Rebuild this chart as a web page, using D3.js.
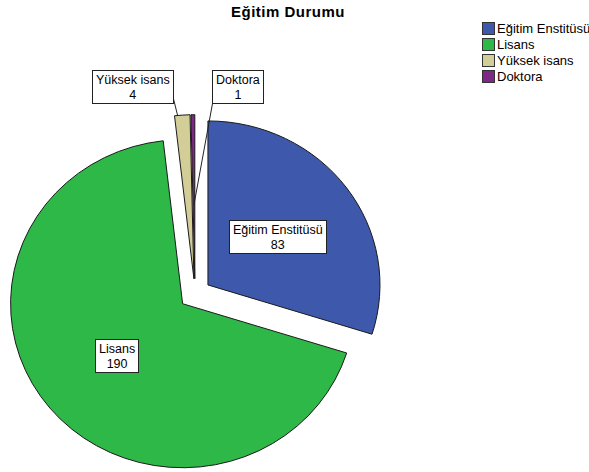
<!DOCTYPE html>
<html>
<head>
<meta charset="utf-8">
<script src="https://cdn.jsdelivr.net/npm/d3@7/dist/d3.min.js"></script>
<style>
  html, body { margin: 0; padding: 0; background: #fff; }
  svg { display: block; font-family: "Liberation Sans", Arial, sans-serif; }
</style>
</head>
<body>
<svg id="chart" width="589" height="472"></svg>
<script>
const title = "Eğitim Durumu";
const categories = ["Eğitim Enstitüsü", "Lisans", "Yüksek isans", "Doktora"];
const values = [83, 190, 4, 1];
const colors = ["#3E58AC", "#2EB848", "#D3CE97", "#7C2884"];

const svg = d3.select("#chart");
const cx = 195, cy = 294, r = 164, sx = 1.049, explode = 15.3;

// Title
svg.append("text")
  .attr("x", 288).attr("y", 17)
  .attr("text-anchor", "middle")
  .attr("font-size", 15).attr("font-weight", "bold")
  .attr("letter-spacing", 0.5)
  .attr("fill", "#000")
  .text(title);

const data = categories.map((c, i) => ({ cat: c, value: values[i], color: colors[i] }));
const pie = d3.pie().value(d => d.value).sort(null).startAngle(0).endAngle(2 * Math.PI);
const arcs = pie(data);
const arc = d3.arc().innerRadius(0).outerRadius(r);

function offset(d) {
  const a = (d.startAngle + d.endAngle) / 2;
  return [explode * Math.sin(a) * sx, -explode * Math.cos(a)];
}
function pt(d, frac, ang) {
  const o = offset(d);
  return [cx + o[0] + frac * r * Math.sin(ang) * sx, cy + o[1] - frac * r * Math.cos(ang)];
}

const gPie = svg.append("g");
gPie.selectAll("path").data(arcs).enter().append("path")
  .attr("transform", d => { const o = offset(d); return `translate(${cx + o[0]},${cy + o[1]}) scale(${sx},1)`; })
  .attr("d", arc)
  .attr("fill", d => d.data.color)
  .attr("stroke", "#1a1a1a")
  .attr("stroke-width", 1)
  .attr("vector-effect", "non-scaling-stroke")
  .attr("stroke-linejoin", "round");

// leader lines group (under boxes)
const gLines = svg.append("g");
// Labels
const gLab = svg.append("g").attr("font-size", 12.5);
function labelBox(lines, center, anchorLeft, anchorRight, top) {
  const g = gLab.append("g");
  const rect = g.append("rect").attr("fill", "#fff").attr("stroke", "#222").attr("stroke-width", 1);
  const t1 = g.append("text").attr("text-anchor", "middle").attr("fill", "#000").text(lines[0]);
  const t2 = g.append("text").attr("text-anchor", "middle").attr("fill", "#000").text(lines[1]);
  const w = Math.max(t1.node().getComputedTextLength(), t2.node().getComputedTextLength()) + 7;
  const h = 33;
  let x0, y0;
  if (center) { x0 = center[0] - w / 2; y0 = center[1] - h / 2; }
  else if (anchorLeft != null) { x0 = anchorLeft; y0 = top; }
  else { x0 = anchorRight - w; y0 = top; }
  x0 = Math.round(x0) + 0.5; y0 = Math.round(y0) + 0.5;
  rect.attr("x", x0).attr("y", y0).attr("width", Math.round(w)).attr("height", h);
  t1.attr("x", x0 + w / 2).attr("y", y0 + 13);
  t2.attr("x", x0 + w / 2).attr("y", y0 + 28);
  return { x0, y0, w, h };
}

arcs.forEach(d => {
  const mid = (d.startAngle + d.endAngle) / 2;
  const lines = [d.data.cat, String(d.data.value)];
  if (d.data.value >= 10) {
    labelBox(lines, pt(d, 0.5, mid));
  } else if (d.data.cat === "Yüksek isans") {
    const b = labelBox(lines, null, null, 173, 70);
    const p = pt(d, 1.0, d.startAngle + 0.2 * (d.endAngle - d.startAngle));
    gLines.append("line").attr("x1", b.x0 + b.w).attr("y1", b.y0 + 27)
      .attr("x2", p[0]).attr("y2", p[1]).attr("stroke", "#222").attr("stroke-width", 1);
  } else {
    const b = labelBox(lines, null, 212, null, 70);
    const p = pt(d, 0.45, mid);
    gLines.append("line").attr("x1", b.x0).attr("y1", b.y0 + b.h)
      .attr("x2", p[0]).attr("y2", p[1]).attr("stroke", "#222").attr("stroke-width", 1);
  }
});

// Legend
const gLeg = svg.append("g").attr("font-size", 13);
const legY = d3.scalePoint().domain(categories).range([22, 70]);
categories.forEach((c, i) => {
  gLeg.append("rect").attr("x", 482.5).attr("y", legY(c) + 0.5).attr("width", 12).attr("height", 12)
    .attr("fill", colors[i]).attr("stroke", "#333").attr("stroke-width", 1);
  gLeg.append("text").attr("x", 497).attr("y", legY(c) + 11).attr("fill", "#000").text(c);
});
</script>
</body>
</html>
